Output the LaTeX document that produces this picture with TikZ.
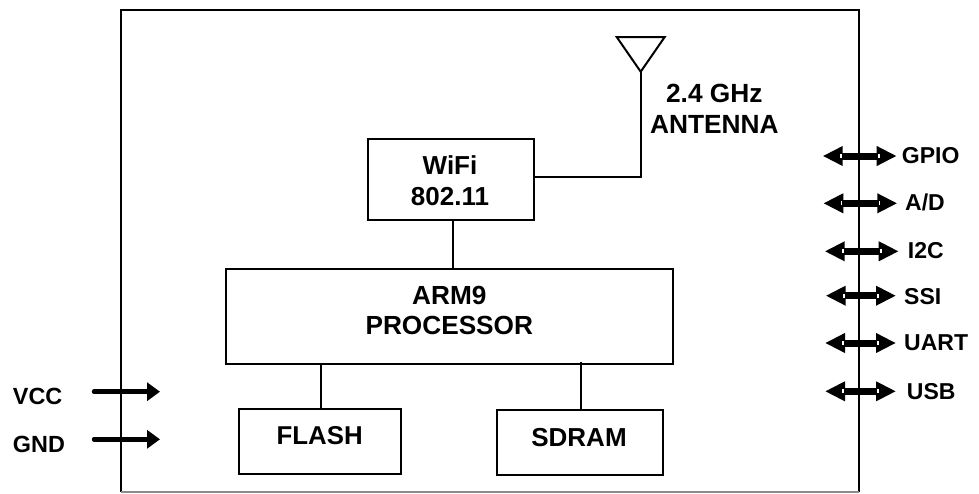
\documentclass[tikz,border=0pt]{standalone}
\usepackage{fontspec}
\setmainfont{Liberation Sans}
\usetikzlibrary{arrows.meta}
\tikzset{
  x=1pt,y=-1pt,
  blockbox/.style={draw=black,line width=2pt,fill=white,inner sep=0pt,align=center},
  lbl/.style={inner sep=0pt,font=\bfseries\fontsize{#1}{#1}\selectfont,align=center},
  wire/.style={draw=black,line width=2pt},
  bus/.style={line width=7pt,{Triangle[length=20pt,width=18.5pt]}-{Triangle[length=20pt,width=18.5pt]}},
  notch/.style={fill=white},
  pin/.style={line width=4.5pt,-{Triangle[length=13pt,width=18pt]}}
}
\begin{document}
\begin{tikzpicture}
\useasboundingbox (0,0) rectangle (979,493);
\fill[white] (0,0) rectangle (979,493);
\coordinate (f1) at (121,9.5); \coordinate (f2) at (859,9.5);
\coordinate (f3) at (859,492); \coordinate (f4) at (121,492);
\draw[wire] (f4) -- (f1) -- (f2) -- (f3);
\draw[draw=black!45,line width=1.6pt] (f3) -- (f4);
% blocks
\node[blockbox,minimum width=165.5pt,minimum height=81pt] (wifi) at (451,179.7) {};
\node[lbl=26] (wifit) at (450,180.5) {WiFi\\[4.7pt]802.11};
\node[blockbox,minimum width=446.5pt,minimum height=95pt] (arm) at (449.3,316.2) {};
\node[lbl=26.2] (armt) at (449.3,310.5) {ARM9\\[4.5pt]PROCESSOR};
\node[blockbox,minimum width=161.5pt,minimum height=65.3pt] (flash) at (319.8,441.3) {};
\node[lbl=25.8] (flasht) at (319.7,435.7) {FLASH};
\node[blockbox,minimum width=165.5pt,minimum height=65pt] (sdram) at (579.8,442.8) {};
\node[lbl=26] (sdramt) at (579,437.7) {SDRAM};
% connectors
\coordinate (wifid) at (452.7,220);
\coordinate (armf) at (320.7,363.7);
\coordinate (arms) at (580.7,362);
\draw[wire] (wifid) -- (wifid |- arm.north);
\draw[wire] (armf) -- (armf |- flash.north);
\draw[wire] (arms) -- (arms |- sdram.north);
% antenna
\coordinate (tip) at (640.7,71.7);
\coordinate (al) at (616.7,37);
\coordinate (ar) at (664.7,37);
\coordinate (bend) at (640.7,177.3);
\draw[wire,line join=miter] (al) -- (ar) -- (tip) -- cycle;
\draw[wire] (tip) -- (bend) -- (bend -| wifi.east);
\node[lbl=26.3] (ant) at (714.3,108.7) {2.4 GHz\\[4.4pt]ANTENNA};
% buses
\foreach \n/\y/\xa/\xb/\xt/\t/\ty in {
  gpio/156/822.7/896.7/901.7/GPIO/156,
  ad/203.3/823.3/897.3/905/{A/D}/202.7,
  iic/251.3/824.7/898.7/907.7/I2C/250.7,
  ssi/295.7/825.7/896/904/SSI/296.7,
  uart/343/825/896/904/UART/343,
  usb/391.3/825/896/906.7/USB/391.7}{
  \coordinate (\n a) at (\xa,\y);
  \coordinate (\n b) at (\xb,\y);
  \draw[bus] (\n a) -- (\n b);
  \fill[notch] (\xa+17.2,\y-1.9) rectangle (\xa+18.8,\y+1.9);
  \fill[notch] (\xb-18.8,\y-1.9) rectangle (\xb-17.2,\y+1.9);
  \node[lbl=23,anchor=west] (\n) at (\xt,\ty) {\t};
}
% power
\coordinate (vcca) at (94,391.7); \coordinate (vccb) at (160,391.7);
\coordinate (gnda) at (94,439.3); \coordinate (gndb) at (160,439.3);
\draw[pin,line cap=round] (vcca) -- (vccb);
\draw[pin,line cap=round] (gnda) -- (gndb);
\node[lbl=23.4,anchor=west] (vcc) at (12.7,396) {VCC};
\node[lbl=23.4,anchor=west] (gnd) at (12.7,444) {GND};
\end{tikzpicture}
\end{document}
